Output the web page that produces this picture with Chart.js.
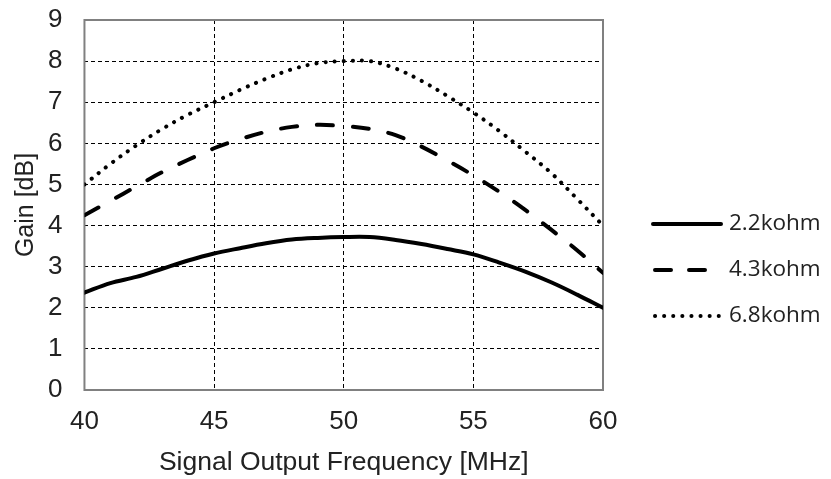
<!DOCTYPE html>
<html lang="en">
<head>
  <meta charset="UTF-8">
  <title>Gain vs Signal Output Frequency</title>
  <script src="https://cdn.jsdelivr.net/npm/chart.js"></script>
  <style>
    html, body { margin: 0; padding: 0; background: #fff; }
    #wrap { width: 831px; height: 479px; }
  </style>
</head>
<body>
  <div id="wrap"><canvas id="myChart" width="831" height="479"></canvas></div>
  <script>
    // frequency in MHz
    const freq = [40, 41, 42, 43, 44, 45, 46, 47, 48, 49, 50, 51, 52, 53, 54, 55, 56, 57, 58, 59, 60];
    // gain in dB for each load
    const gain22 = [2.37, 2.6, 2.75, 2.95, 3.15, 3.32, 3.45, 3.57, 3.66, 3.7, 3.72, 3.72, 3.65, 3.55, 3.43, 3.3, 3.1, 2.88, 2.62, 2.32, 2.0];
    const gain43 = [4.25, 4.6, 4.95, 5.3, 5.6, 5.88, 6.1, 6.28, 6.4, 6.45, 6.42, 6.35, 6.2, 5.92, 5.58, 5.22, 4.82, 4.38, 3.9, 3.4, 2.85];
    const gain68 = [5.0, 5.5, 5.95, 6.35, 6.7, 7.0, 7.3, 7.57, 7.8, 7.95, 8.0, 8.0, 7.82, 7.52, 7.15, 6.75, 6.3, 5.8, 5.28, 4.65, 4.0];
    const seriesNames = ['2.2kohm', '4.3kohm', '6.8kohm'];

    const pts = arr => arr.map((v, i) => ({ x: freq[i], y: v }));

    // solid grey frame round the plot area
    const frame = {
      id: 'frame',
      beforeDatasetsDraw(chart) {
        const a = chart.chartArea;
        const c = chart.ctx;
        c.save();
        c.strokeStyle = '#808080';
        c.lineWidth = 2;
        c.setLineDash([]);
        c.strokeRect(a.left, a.top, a.right - a.left, a.bottom - a.top);
        c.restore();
      }
    };

    // legend on the right, line samples use each dataset's own style
    const sideLegend = {
      id: 'sideLegend',
      afterDraw(chart) {
        const a = chart.chartArea;
        const c = chart.ctx;
        const x0 = a.right + 50, x1 = x0 + 68;
        const yMid = (a.top + a.bottom) / 2;
        c.save();
        chart.data.datasets.forEach((ds, i) => {
          const y = yMid + 19 + i * 46;
          c.strokeStyle = ds.borderColor;
          c.lineWidth = ds.borderWidth;
          c.lineCap = ds.borderCapStyle || 'butt';
          c.setLineDash(i === 1 ? [16, 18] : (ds.borderDash || []));
          c.beginPath();
          c.moveTo(x0 + (i === 0 ? 0 : 2), y);
          c.lineTo(x1, y);
          c.stroke();
          c.fillStyle = '#222';
          c.font = '22.5px "Open Sans"';
          c.textBaseline = 'middle';
          c.fillText(ds.label, x1 + 8, y);
        });
        c.restore();
      }
    };

    const ctx = document.getElementById('myChart').getContext('2d');
    const myChart = new Chart(ctx, {
      type: 'line',
      data: {
        datasets: [{
          label: seriesNames[0],
          data: pts(gain22),
          borderColor: '#000',
          borderWidth: 4,
          borderCapStyle: 'round'
        }, {
          label: seriesNames[1],
          data: pts(gain43),
          borderColor: '#000',
          borderWidth: 4,
          borderDash: [16, 20],
          borderCapStyle: 'round'
        }, {
          label: seriesNames[2],
          data: pts(gain68),
          borderColor: '#000',
          borderWidth: 4,
          borderDash: [0.1, 9],
          borderCapStyle: 'round'
        }]
      },
      options: {
        responsive: false,
        animation: false,
        elements: {
          point: { radius: 0 },
          line: { tension: 0.35, fill: false }
        },
        layout: { padding: { left: 11, top: 20, right: 228, bottom: 0 } },
        scales: {
          x: {
            type: 'linear',
            min: 40, max: 60,
            ticks: { stepSize: 5, color: '#222', padding: 16, font: { family: 'Liberation Sans', size: 26 } },
            grid: { color: '#000', lineWidth: 1, drawTicks: false, tickLength: 0 },
            border: { display: false, dash: [4, 3] },
            title: { display: true, text: 'Signal Output Frequency [MHz]', color: '#222', padding: { top: -6, bottom: 0 }, font: { family: 'Liberation Sans', size: 26.5 } }
          },
          y: {
            min: 0, max: 9,
            ticks: { stepSize: 1, color: '#222', padding: 22, font: { family: 'Liberation Sans', size: 26 } },
            grid: { color: '#000', lineWidth: 1, drawTicks: false, tickLength: 0 },
            border: { display: false, dash: [4, 3] },
            title: { display: true, text: 'Gain [dB]', color: '#222', padding: { top: 0, bottom: -15 }, font: { family: 'Liberation Sans', size: 25 } },
            afterFit(scale) {
              // top label may stick out above the plot, as in the original
              scale.paddingTop = 0;
              scale.paddingBottom = 0;
            }
          }
        },
        plugins: {
          legend: { display: false },
          tooltip: { enabled: false }
        }
      },
      plugins: [frame, sideLegend]
    });
  </script>
</body>
</html>
